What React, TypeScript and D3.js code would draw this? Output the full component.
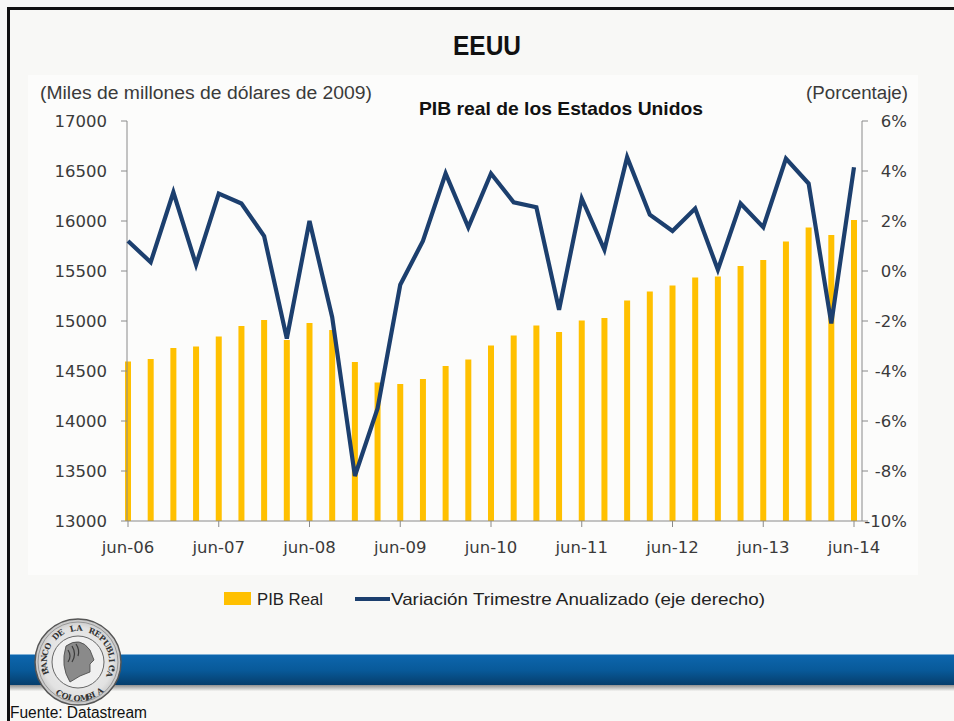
import React from "react";
import * as d3 from "d3";

const quarters = [
  "jun-06","sep-06","dic-06","mar-07","jun-07","sep-07","dic-07","mar-08",
  "jun-08","sep-08","dic-08","mar-09","jun-09","sep-09","dic-09","mar-10",
  "jun-10","sep-10","dic-10","mar-11","jun-11","sep-11","dic-11","mar-12",
  "jun-12","sep-12","dic-12","mar-13","jun-13","sep-13","dic-13","mar-14","jun-14",
];
const pibReal = [
  14595,14620,14730,14745,14845,14950,15010,14810,
  14980,14910,14590,14385,14370,14420,14550,14615,
  14755,14855,14955,14890,15005,15030,15205,15295,
  15355,15435,15445,15550,15610,15795,15935,15860,16010,
];
const variacion = [
  1.2,0.35,3.15,0.25,3.1,2.7,1.4,-2.7,
  2.0,-1.85,-8.2,-5.5,-0.55,1.2,3.9,1.75,
  3.9,2.75,2.55,-1.55,2.9,0.85,4.55,2.25,
  1.6,2.5,0.05,2.7,1.75,4.5,3.5,-2.1,4.15,
];
const leftTicks = [13000,13500,14000,14500,15000,15500,16000,16500,17000];
const rightTicks = [-10,-8,-6,-4,-2,0,2,4,6];
const xTickLabels = ["jun-06","jun-07","jun-08","jun-09","jun-10","jun-11","jun-12","jun-13","jun-14"];
const sealTop = "BANCO DE LA REPUBLICA";
const sealBottom = "COLOMBIA";

const W = 954, H = 721;
const LX = 127, RX = 862, TY = 121, BY = 521;

function arcText(str: string, cx: number, cy: number, R: number, a0: number, a1: number, bottom: boolean) {
  const n = str.length;
  const xs: string[] = [], ys: string[] = [], rs: string[] = [];
  for (let i = 0; i < n; i++) {
    const t = n === 1 ? 0.5 : i / (n - 1);
    const deg = a0 + (a1 - a0) * t;
    const rad = (deg * Math.PI) / 180;
    xs.push((cx + R * Math.sin(rad)).toFixed(1));
    ys.push((cy - R * Math.cos(rad)).toFixed(1));
    rs.push((bottom ? deg - 180 : deg).toFixed(1));
  }
  return { x: xs.join(" "), y: ys.join(" "), rotate: rs.join(" ") };
}

export default function App() {
  const x = d3.scalePoint<string>().domain(quarters).range([128, 854]);
  const yL = d3.scaleLinear().domain([13000, 17000]).range([BY, TY]);
  const yR = d3.scaleLinear().domain([-10, 6]).range([BY, TY]);
  const line = d3.line<number>()
    .x((_, i) => x(quarters[i]) as number)
    .y((d) => yR(d));

  const axisColor = "#8a8a8a";
  const txt = "#3a3a3a";
  const sans = "'DejaVu Sans', sans-serif";
  const narrow = "'Liberation Sans', Arial, sans-serif";

  const cx = 78, cy = 662, r = 43;
  const topArc = arcText(sealTop, cx, cy, 31, -112, 106, false);
  const botArc = arcText(sealBottom, cx, cy, 39, 216, 148, true);

  return (
    <svg width={W} height={H} style={{ position: "absolute", left: 0, top: 0 }}
      xmlns="http://www.w3.org/2000/svg">
      <defs>
        <linearGradient id="band" x1="0" y1="0" x2="0" y2="1">
          <stop offset="0" stopColor="#0d66ad" />
          <stop offset="0.5" stopColor="#085a9a" />
          <stop offset="1" stopColor="#063e6c" />
        </linearGradient>
        <linearGradient id="shadow" x1="0" y1="0" x2="0" y2="1">
          <stop offset="0" stopColor="#8f8f8f" />
          <stop offset="1" stopColor="#f4f4f2" />
        </linearGradient>
        <radialGradient id="seal" cx="0.5" cy="0.5" r="0.5">
          <stop offset="0" stopColor="#f4f4f4" />
          <stop offset="0.8" stopColor="#e2e2e2" />
          <stop offset="1" stopColor="#c4c4c4" />
        </radialGradient>
      </defs>
      <rect x={0} y={0} width={W} height={H} fill="#f8f8f6" />
      <rect x={28} y={75} width={890} height={500} fill="#fcfcfb" />

      {/* frame */}
      <rect x={7} y={7} width={W - 7} height={3} fill="#111" />
      <rect x={7} y={7} width={3} height={H - 7} fill="#111" />

      {/* titles */}
      <text x={487} y={55} textAnchor="middle" fontFamily={narrow} fontWeight="bold"
        fontSize={27} fill="#111" textLength={68} lengthAdjust="spacingAndGlyphs">EEUU</text>
      <text x={561} y={115} textAnchor="middle" fontFamily={narrow} fontWeight="bold"
        fontSize={19} fill="#111" textLength={284} lengthAdjust="spacingAndGlyphs">PIB real de los Estados Unidos</text>
      <text x={40} y={99} fontFamily={narrow} fontSize={18} fill={txt}
        textLength={332} lengthAdjust="spacingAndGlyphs">(Miles de millones de dólares de 2009)</text>
      <text x={806} y={99} fontFamily={narrow} fontSize={18} fill={txt}
        textLength={102} lengthAdjust="spacingAndGlyphs">(Porcentaje)</text>

      {/* bars */}
      {pibReal.map((v, i) => (
        <rect key={i} x={(x(quarters[i]) as number) - 3} y={yL(v)} width={6}
          height={yL(13000) - yL(v)} fill="#FFC000" />
      ))}

      {/* axes */}
      <line x1={LX} x2={LX} y1={TY} y2={BY} stroke={axisColor} strokeWidth={1} />
      <line x1={RX} x2={RX} y1={TY} y2={BY} stroke={axisColor} strokeWidth={1} />
      <line x1={LX} x2={RX} y1={BY} y2={BY} stroke={axisColor} strokeWidth={1} />
      {leftTicks.map((t) => (
        <line key={`lt${t}`} x1={LX - 6} x2={LX} y1={yL(t)} y2={yL(t)} stroke={axisColor} />
      ))}
      {leftTicks.map((t) => (
        <text key={`ll${t}`} x={107} y={yL(t) + 6} textAnchor="end" fontFamily={sans} fontSize={16.5}
          fill={txt}>{t}</text>
      ))}
      {rightTicks.map((t) => (
        <line key={`rt${t}`} x1={RX} x2={RX + 6} y1={yR(t)} y2={yR(t)} stroke={axisColor} />
      ))}
      {rightTicks.map((t) => (
        <text key={`rl${t}`} x={907} y={yR(t) + 6} textAnchor="end" fontFamily={sans} fontSize={16.5}
          fill={txt}>{`${t}%`}</text>
      ))}
      {xTickLabels.map((q) => (
        <line key={`xt${q}`} x1={x(q) as number} x2={x(q) as number} y1={BY} y2={BY + 6} stroke={axisColor} />
      ))}
      {xTickLabels.map((q) => (
        <text key={`xl${q}`} x={x(q) as number} y={553} textAnchor="middle" fontFamily={sans} fontSize={16.5}
          fill={txt}>{q}</text>
      ))}

      {/* line */}
      <path d={line(variacion) || ""} fill="none" stroke="#1c3f6e" strokeWidth={4.2}
        strokeLinejoin="miter" />

      {/* legend */}
      <rect x={224} y={592} width={27} height={13} fill="#FFC000" />
      <text x={257} y={605} fontFamily={narrow} fontSize={17} fill="#222"
        textLength={66} lengthAdjust="spacingAndGlyphs">PIB Real</text>
      <line x1={355} x2={390} y1={599} y2={599} stroke="#1c3f6e" strokeWidth={4} />
      <text x={391} y={605} fontFamily={narrow} fontSize={17} fill="#222"
        textLength={374} lengthAdjust="spacingAndGlyphs">Variación Trimestre Anualizado (eje derecho)</text>

      {/* banner */}
      <rect x={10} y={654} width={W - 10} height={1.5} fill="#7fb0d6" />
      <rect x={10} y={655} width={W - 10} height={30} fill="url(#band)" />
      <rect x={10} y={685} width={W - 10} height={6} fill="url(#shadow)" />

      {/* seal */}
      <circle cx={cx} cy={cy} r={r} fill="url(#seal)" stroke="#555" strokeWidth={1.5} />
      <circle cx={cx} cy={cy} r={r - 3} fill="none" stroke="#888" strokeWidth={0.8} />
      <circle cx={cx} cy={cy} r={26} fill="#f0f0f0" stroke="#666" strokeWidth={1} />
      <path d={`M ${cx - 12} ${cy - 16} Q ${cx + 2} ${cy - 26} ${cx + 12} ${cy - 12} L ${cx + 16} ${cy - 2} L ${cx + 12} ${cy + 2} L ${cx + 12} ${cy + 10} L ${cx + 2} ${cy + 14} L ${cx - 8} ${cy + 20} Q ${cx - 18} ${cy + 4} ${cx - 12} ${cy - 16} Z`}
        fill="#8a8a8a" stroke="#444" strokeWidth={0.8} />
      <path d={`M ${cx - 10} ${cy - 12} q 4 6 0 12 M ${cx - 6} ${cy - 16} q 5 8 0 16 M ${cx - 2} ${cy - 18} q 4 6 2 12`}
        fill="none" stroke="#3a3a3a" strokeWidth={1.2} />
      <circle cx={cx - 35} cy={cy + 8} r={1.5} fill="#333" />
      <circle cx={cx + 35} cy={cy + 8} r={1.5} fill="#333" />
      <text x={topArc.x} y={topArc.y} rotate={topArc.rotate} fontFamily="'DejaVu Serif', serif"
        fontWeight="bold" fontSize={8} fill="#333">{sealTop}</text>
      <text x={botArc.x} y={botArc.y} rotate={botArc.rotate} fontFamily="'DejaVu Serif', serif"
        fontWeight="bold" fontSize={8} fill="#333">{sealBottom}</text>

      <text x={10} y={718} fontFamily={narrow} fontSize={16} fill="#111"
        textLength={137} lengthAdjust="spacingAndGlyphs">Fuente: Datastream</text>
    </svg>
  );
}
